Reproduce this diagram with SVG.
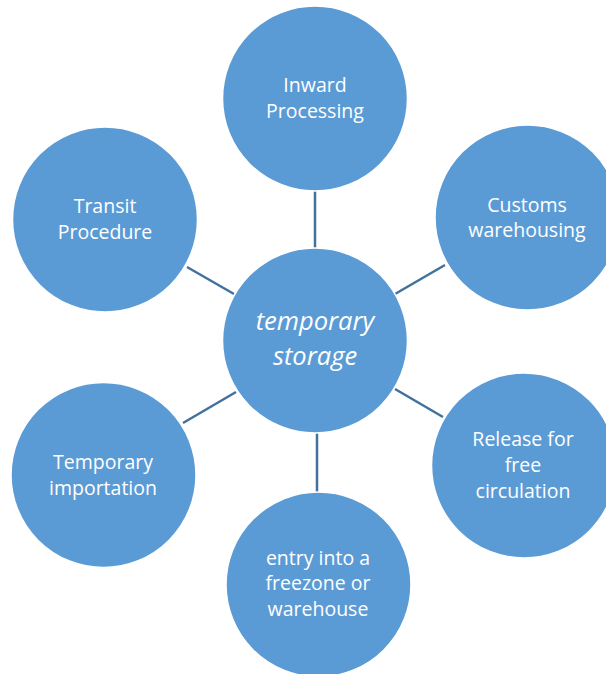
<svg xmlns="http://www.w3.org/2000/svg" width="606" height="674" viewBox="0 0 606 674">
  <style>
    .bubble { fill: #5b9bd5; stroke: #ffffff; stroke-width: 1.5; }
    .label { font-family: "Open Sans", "Noto Sans", sans-serif; font-size: 19.5px; fill: #ffffff; text-anchor: middle; }
    .hub { font-family: "Open Sans", "Noto Sans", sans-serif; font-size: 25.5px; font-style: italic; fill: #ffffff; text-anchor: middle; }
    .link { stroke: #41719c; stroke-width: 2.5; fill: none; }
  </style>
  <rect width="606" height="674" fill="#ffffff"/>

  <g id="connectors">
    <line class="link" x1="315" y1="191" x2="315" y2="248"/>
    <line class="link" x1="395" y1="294" x2="445" y2="265"/>
    <line class="link" x1="395" y1="389" x2="443" y2="417"/>
    <line class="link" x1="317" y1="433" x2="317" y2="492"/>
    <line class="link" x1="236" y1="392" x2="183" y2="423"/>
    <line class="link" x1="234" y1="294" x2="187" y2="267"/>
  </g>

  <g id="inward-processing">
    <circle class="bubble" cx="315" cy="98.5" r="92.5"/>
    <text class="label" x="315" y="92">Inward</text>
    <text class="label" x="315" y="118">Processing</text>
  </g>

  <g id="customs-warehousing">
    <circle class="bubble" cx="527.5" cy="217.5" r="92.5"/>
    <text class="label" x="527" y="212">Customs</text>
    <text class="label" x="527" y="237">warehousing</text>
  </g>

  <g id="transit-procedure">
    <circle class="bubble" cx="105" cy="219.5" r="92.5"/>
    <text class="label" x="105" y="213">Transit</text>
    <text class="label" x="105" y="239">Procedure</text>
  </g>

  <g id="temporary-storage">
    <circle class="bubble" cx="315" cy="340.5" r="92.5"/>
    <text class="hub" x="315" y="330">temporary</text>
    <text class="hub" x="315" y="365">storage</text>
  </g>

  <g id="temporary-importation">
    <circle class="bubble" cx="103.5" cy="475" r="92.5"/>
    <text class="label" x="103" y="469">Temporary</text>
    <text class="label" x="103" y="495">importation</text>
  </g>

  <g id="release-free-circulation">
    <circle class="bubble" cx="524" cy="465.5" r="92.5"/>
    <text class="label" x="523" y="446">Release for</text>
    <text class="label" x="523" y="472">free</text>
    <text class="label" x="523" y="498">circulation</text>
  </g>

  <g id="freezone-entry">
    <circle class="bubble" cx="318.5" cy="584.5" r="92.5"/>
    <text class="label" x="318" y="565">entry into a</text>
    <text class="label" x="318" y="590">freezone or</text>
    <text class="label" x="318" y="616">warehouse</text>
  </g>
</svg>
